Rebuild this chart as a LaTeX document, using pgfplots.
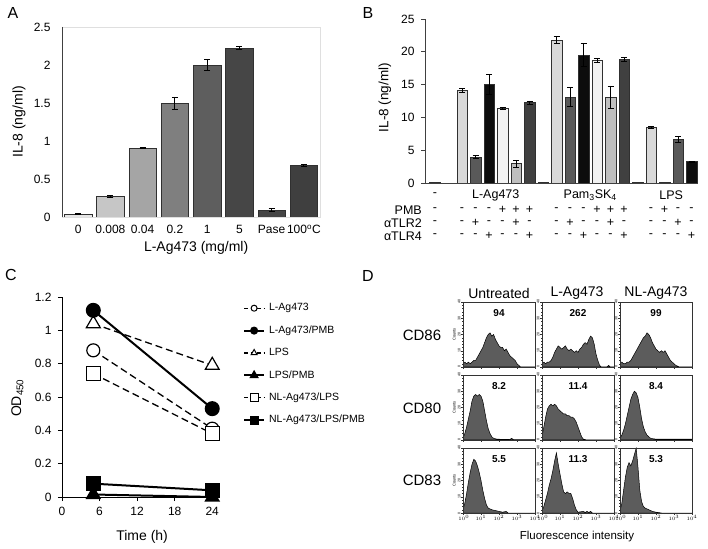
\documentclass[border=0pt]{standalone}
\usepackage{pgfplots}
\pgfplotsset{compat=1.18}
\usepackage{fontspec}
\setmainfont{Liberation Sans}
\definecolor{a0}{HTML}{E6E6E6}
\definecolor{a1}{HTML}{C6C6C6}
\definecolor{a2}{HTML}{A5A5A5}
\definecolor{a3}{HTML}{7F7F7F}
\definecolor{a4}{HTML}{5E5E5E}
\definecolor{a5}{HTML}{464646}
\definecolor{a6}{HTML}{444444}
\definecolor{a7}{HTML}{3F3F3F}
\definecolor{edge}{HTML}{303030}
\definecolor{b1}{HTML}{D9D9D9}
\definecolor{b2}{HTML}{595959}
\definecolor{b3}{HTML}{0D0D0D}
\definecolor{b4}{HTML}{F2F2F2}
\definecolor{b5}{HTML}{BFBFBF}
\definecolor{b6}{HTML}{404040}
\definecolor{hfill}{HTML}{5C5C5C}
\newcommand{\fs}[1]{\fontsize{#1}{#1}\selectfont}
\pgfplotsset{
  /pgf/number format/assume math mode=true,
  eb/.style={error bars/.cd, y dir=both, y explicit,
    error bar style={black, line width=0.8pt},
    error mark options={rotate=90, mark size=3pt, black, line width=0.8pt}},
  hist/.style={
    anchor=south west, scale only axis, width=72pt, height=65pt,
    xmin=0, xmax=4, ymin=0, ymax=40,
    xtick={0,1,2,3,4}, ytick={0,10,20,30,40},
    xticklabels={\hspace{1.6pt}$10^0$,$10^1$,$10^2$,$10^3$,$10^4$\hspace{1.6pt}},
    minor xtick={0.301,0.477,0.602,0.699,0.778,0.845,0.903,0.954,1.301,1.477,1.602,1.699,1.778,1.845,1.903,1.954,2.301,2.477,2.602,2.699,2.778,2.845,2.903,2.954,3.301,3.477,3.602,3.699,3.778,3.845,3.903,3.954},
    minor y tick num=4,
    xtick pos=bottom, ytick pos=left,
    tick align=outside, major tick length=2pt, minor tick length=1pt,
    tick style={black!80, line width=0.4pt},
    axis line style={black!80, line width=0.6pt},
    tick label style={font=\fs{3.6}},
    xticklabel style={font=\fs{3.2}, inner sep=0pt},
    yticklabel style={rotate=90, anchor=south, inner sep=0.5pt},
    axis on top,
  },
  hplot/.style={fill=hfill, draw=black, line width=0.5pt},
  dsty/.style={black, line width=1.3pt, dash pattern=on 7pt off 4pt},
  ssty/.style={black, line width=2pt},
}
\begin{document}
\begin{tikzpicture}
\useasboundingbox (0pt,0pt) rectangle (708pt,548pt);

% ---------------- Panel A ----------------
\begin{axis}[
  at={(62pt,331pt)}, anchor=south west, scale only axis,
  width=258pt, height=190pt,
  xmin=-0.5, xmax=7.5, ymin=0, ymax=2.5,
  ytick={0,0.5,1,1.5,2,2.5},
  xtick={0,...,7}, xticklabels={0,0.008,0.04,0.2,1,5,Pase,100\textsuperscript{o}C},
  tick style={draw=none},
  axis line style={draw=gray!25},
  ybar, bar width=27.5pt, bar shift=0pt,
  ticklabel style={font=\fs{12}},
  yticklabel style={xshift=-8pt},
  xlabel={L-Ag473 (mg/ml)}, ylabel={IL-8 (ng/ml)},
  label style={font=\fs{14}},
  xlabel style={at={(axis description cs:0.52,-0.163)}, anchor=center},
  ylabel style={at={(axis description cs:-0.167,0.5)}, anchor=center},
]
\addplot[fill=a0, draw=edge, line width=0.6pt, eb] coordinates {(0,0.04) +- (0,0.006)};
\addplot[fill=a1, draw=edge, line width=0.6pt, eb] coordinates {(1,0.27) +- (0,0.01)};
\addplot[fill=a2, draw=edge, line width=0.6pt, eb] coordinates {(2,0.91) +- (0,0.01)};
\addplot[fill=a3, draw=edge, line width=0.6pt, eb] coordinates {(3,1.50) +- (0,0.08)};
\addplot[fill=a4, draw=edge, line width=0.6pt, eb] coordinates {(4,2.00) +- (0,0.07)};
\addplot[fill=a5, draw=edge, line width=0.6pt, eb] coordinates {(5,2.22) +- (0,0.02)};
\addplot[fill=a6, draw=edge, line width=0.6pt, eb] coordinates {(6,0.09) +- (0,0.02)};
\addplot[fill=a7, draw=edge, line width=0.6pt, eb] coordinates {(7,0.68) +- (0,0.01)};
\draw[black!75, line width=0.8pt] (rel axis cs:0,1) -- (rel axis cs:0,0) -- (rel axis cs:1,0);
\end{axis}

% ---------------- Panel B ----------------
\begin{axis}[
  at={(425pt,365pt)}, anchor=south west, scale only axis,
  width=273pt, height=164pt,
  xmin=-0.74, xmax=19.48, ymin=0, ymax=25,
  ytick={0,5,10,15,20,25}, xtick=\empty,
  axis x line=bottom, axis y line=left,
  axis line style={-, black!75, line width=0.8pt},
  tick style={black!75, line width=0.6pt}, tick align=outside, major tick length=4pt,
  ybar, bar width=10.5pt, bar shift=0pt,
  ticklabel style={font=\fs{12}},
  yticklabel style={xshift=-3pt},
  ylabel={IL-8 (ng/ml)},
  label style={font=\fs{13.5}},
  ylabel style={at={(axis description cs:-0.147,0.52)}, anchor=center},
]
\addplot[fill=b1, draw=edge, line width=0.5pt] coordinates {(0,0.08)};
\addplot[fill=b1, draw=edge, line width=0.5pt, eb] coordinates {(2,14.1) +- (0,0.25)};
\addplot[fill=b2, draw=edge, line width=0.5pt, eb] coordinates {(3,4.0) +- (0,0.2)};
\addplot[fill=b3, draw=edge, line width=0.5pt, eb] coordinates {(4,15.0) +- (0,1.5)};
\addplot[fill=b4, draw=edge, line width=0.5pt, eb] coordinates {(5,11.35) +- (0,0.15)};
\addplot[fill=b5, draw=edge, line width=0.5pt, eb] coordinates {(6,2.95) +- (0,0.5)};
\addplot[fill=b6, draw=edge, line width=0.5pt, eb] coordinates {(7,12.25) +- (0,0.25)};
\addplot[fill=b6, draw=edge, line width=0.5pt] coordinates {(8,0.08)};
\addplot[fill=b1, draw=edge, line width=0.5pt, eb] coordinates {(9,21.8) +- (0,0.5)};
\addplot[fill=b2, draw=edge, line width=0.5pt, eb] coordinates {(10,13.1) +- (0,1.5)};
\addplot[fill=b3, draw=edge, line width=0.5pt, eb] coordinates {(11,19.5) +- (0,1.8)};
\addplot[fill=b4, draw=edge, line width=0.5pt, eb] coordinates {(12,18.7) +- (0,0.25)};
\addplot[fill=b5, draw=edge, line width=0.5pt, eb] coordinates {(13,13.1) +- (0,1.7)};
\addplot[fill=b6, draw=edge, line width=0.5pt, eb] coordinates {(14,18.9) +- (0,0.3)};
\addplot[fill=b6, draw=edge, line width=0.5pt] coordinates {(15,0.08)};
\addplot[fill=b1, draw=edge, line width=0.5pt, eb] coordinates {(16,8.45) +- (0,0.2)};
\addplot[fill=b3, draw=edge, line width=0.5pt] coordinates {(17,0.15)};
\addplot[fill=b2, draw=edge, line width=0.5pt, eb] coordinates {(18,6.65) +- (0,0.4)};
\addplot[fill=b3, draw=edge, line width=0.5pt, eb] coordinates {(19,3.25) +- (0,0.05)};
\end{axis}
% B labels below axis
\begin{scope}[every node/.style={font=\fs{12.5}, inner sep=0pt}]
\node at (435pt,353pt) {-};
\node at (495.75pt,353pt) {L-Ag473};
\node at (590.25pt,353pt) {Pam\textsubscript{3}SK\textsubscript{4}};
\node at (671.25pt,353pt) {LPS};
\node[anchor=east] at (422pt,338pt) {PMB};
\node[anchor=east] at (422pt,325pt) {αTLR2};
\node[anchor=east] at (422pt,312pt) {αTLR4};
\foreach \s/\p/\a/\b in {0/-/-/-, 2/-/-/-, 3/-/+/-, 4/-/-/+, 5/+/-/-, 6/+/+/-, 7/+/-/+,
  9/-/-/-, 10/-/+/-, 11/-/-/+, 12/+/-/-, 13/+/+/-, 14/+/-/+,
  16/-/-/-, 17/+/-/-, 18/-/+/-, 19/-/-/+}{
  \node at ({435pt+13.5pt*\s},338pt) {\p};
  \node at ({435pt+13.5pt*\s},325pt) {\a};
  \node at ({435pt+13.5pt*\s},312pt) {\b};
}
\end{scope}

% ---------------- Panel C ----------------
\begin{axis}[
  at={(62pt,51pt)}, anchor=south west, scale only axis,
  width=154pt, height=200pt,
  xmin=0, xmax=24.6, ymin=0, ymax=1.2,
  xtick={0,6,12,18,24}, ytick={0,0.2,0.4,0.6,0.8,1,1.2},
  axis x line=bottom, axis y line=left,
  axis line style={-, black, line width=1pt},
  tick style={black, line width=0.8pt}, tick align=outside, major tick length=4pt,
  clip=false,
  ticklabel style={font=\fs{12}},
  yticklabel style={xshift=-3pt},
  xticklabel style={yshift=-3pt},
  xlabel={Time (h)}, ylabel={OD\textsubscript{450}},
  label style={font=\fs{14}},
  xlabel style={at={(axis description cs:0.52,-0.2)}, anchor=center},
  ylabel style={at={(axis description cs:-0.29,0.495)}, anchor=center},
  legend style={at={(axis cs:28.9,1.1655)}, anchor=north west, draw=none, fill=none,
    font=\fs{10.5}, row sep=11.9pt, inner sep=0pt,
    nodes={inner sep=0pt, text height=8pt, text depth=2.5pt},
    /tikz/every odd column/.append style={column sep=4pt}},
  legend cell align=left,
  legend image code/.code={\draw[mark repeat=2,mark phase=2,#1] plot coordinates {(0pt,0pt) (10pt,0pt) (20pt,0pt)};},
]
\addplot[dsty, mark=*, mark size=6.5pt, mark options={solid, fill=white, draw=black, line width=1.2pt}, forget plot] coordinates {(5,0.88) (24,0.41)};
\addplot[dsty, mark=triangle*, mark size=8pt, mark options={solid, fill=white, draw=black, line width=1.2pt}, forget plot] coordinates {(5,1.04) (24,0.79)};
\addplot[dsty, mark=square*, mark size=7pt, mark options={solid, fill=white, draw=black, line width=1.2pt}, forget plot] coordinates {(5,0.74) (24,0.38)};
\addplot[ssty, mark=*, mark size=6.5pt, mark options={solid, fill=black}, forget plot] coordinates {(5,1.12) (24,0.53)};
\addplot[ssty, mark=triangle*, mark size=7pt, mark options={solid, fill=black}, forget plot] coordinates {(5,0.015) (24,0.0)};
\addplot[ssty, mark=square*, mark size=6.5pt, mark options={solid, fill=black}, forget plot] coordinates {(5,0.08) (24,0.04)};
\addlegendimage{black, line width=1.3pt, dash pattern=on 4pt off 2.5pt, mark=*, mark size=3pt, mark options={solid, fill=white, line width=1pt}}
\addlegendentry{L-Ag473}
\addlegendimage{black, line width=2pt, mark=*, mark size=3pt, mark options={solid, fill=black}}
\addlegendentry{L-Ag473/PMB}
\addlegendimage{black, line width=1.3pt, dash pattern=on 4pt off 2.5pt, mark=triangle*, mark size=3.5pt, mark options={solid, fill=white, line width=1pt}}
\addlegendentry{LPS}
\addlegendimage{black, line width=2pt, mark=triangle*, mark size=3.5pt, mark options={solid, fill=black}}
\addlegendentry{LPS/PMB}
\addlegendimage{black, line width=1.3pt, dash pattern=on 4pt off 2.5pt, mark=square*, mark size=4pt, mark options={solid, fill=white, line width=0.8pt}}
\addlegendentry{NL-Ag473/LPS}
\addlegendimage{black, line width=2pt, mark=square*, mark size=3.5pt, mark options={solid, fill=black}}
\addlegendentry{NL-Ag473/LPS/PMB}
\end{axis}

% ---------------- Panel D ----------------
% Row 1: CD86
\begin{axis}[hist, at={(463pt,181pt)}, xticklabels=\empty, ylabel={Counts}, ylabel style={font=\fs{4}, yshift=-2pt}]
\addplot[hplot] coordinates {(0,2) (0.1,3) (0.2,2) (0.3,3) (0.4,2) (0.5,3) (0.6,4) (0.7,4) (0.8,6) (0.9,8) (1.0,10) (1.1,12) (1.2,15) (1.3,18) (1.4,20) (1.5,21) (1.6,19) (1.7,20) (1.8,17) (1.9,15) (2.0,13) (2.1,12) (2.2,12) (2.3,10) (2.4,11) (2.5,9) (2.6,7) (2.7,6) (2.8,5) (2.9,4) (3.0,2) (3.1,1) (3.2,0) (4,0)} \closedcycle;
\node[font=\bfseries\fs{10}] at (rel axis cs:0.5,0.83) {94};
\end{axis}
\begin{axis}[hist, at={(542pt,181pt)}, xticklabels=\empty]
\addplot[hplot] coordinates {(0,2) (0.1,3) (0.2,2) (0.3,3) (0.4,3) (0.5,4) (0.6,6) (0.7,9) (0.8,11) (0.9,13) (1.0,12) (1.1,11) (1.2,12) (1.3,13) (1.4,11) (1.5,10) (1.6,11) (1.7,10) (1.8,9) (1.9,10) (2.0,9) (2.1,11) (2.2,12) (2.3,14) (2.4,15) (2.5,14) (2.6,17) (2.7,19) (2.8,18) (2.9,14) (3.0,8) (3.1,4) (3.2,1) (3.3,0) (3.6,0) (3.7,1) (3.8,0) (4,0)} \closedcycle;
\node[font=\bfseries\fs{10}] at (rel axis cs:0.5,0.83) {262};
\end{axis}
\begin{axis}[hist, at={(620pt,181pt)}, xticklabels=\empty]
\addplot[hplot] coordinates {(0,3) (0.1,3) (0.2,2) (0.3,2) (0.4,3) (0.5,3) (0.6,4) (0.7,6) (0.8,8) (0.9,10) (1.0,12) (1.1,14) (1.2,16) (1.3,18) (1.4,19) (1.5,21) (1.6,20) (1.7,18) (1.8,15) (1.9,13) (2.0,11) (2.1,10) (2.2,9) (2.3,10) (2.4,9) (2.5,10) (2.6,8) (2.7,6) (2.8,4) (2.9,3) (3.0,2) (3.1,1) (3.2,0.5) (3.3,0) (4,0)} \closedcycle;
\node[font=\bfseries\fs{10}] at (rel axis cs:0.5,0.83) {99};
\end{axis}
% Row 2: CD80
\begin{axis}[hist, at={(463pt,108pt)}, xticklabels=\empty, ylabel={Counts}, ylabel style={font=\fs{4}, yshift=-2pt}]
\addplot[hplot] coordinates {(0,1) (0.1,4) (0.2,8) (0.3,13) (0.4,18) (0.5,24) (0.6,27) (0.7,28) (0.8,27) (0.9,28) (1.0,27) (1.1,24) (1.2,18) (1.3,12) (1.4,7) (1.5,4) (1.6,2) (1.7,1) (1.9,0.5) (2.6,0.3) (2.7,1) (2.8,0.3) (4,0.3)} \closedcycle;
\node[font=\bfseries\fs{10}] at (rel axis cs:0.5,0.83) {8.2};
\end{axis}
\begin{axis}[hist, at={(542pt,108pt)}, xticklabels=\empty]
\addplot[hplot] coordinates {(0,2) (0.1,8) (0.2,14) (0.3,19) (0.4,21) (0.5,22) (0.6,21) (0.7,22) (0.8,21) (0.9,19) (1.0,18) (1.1,17) (1.2,16) (1.3,16) (1.4,15) (1.5,15) (1.6,14) (1.7,14) (1.8,13) (1.9,11) (2.0,8) (2.1,5) (2.2,2) (2.3,0.5) (2.5,0) (4,0)} \closedcycle;
\node[font=\bfseries\fs{10}] at (rel axis cs:0.5,0.83) {11.4};
\end{axis}
\begin{axis}[hist, at={(620pt,108pt)}, xticklabels=\empty]
\addplot[hplot] coordinates {(0,1) (0.1,3) (0.2,6) (0.3,10) (0.4,15) (0.5,20) (0.6,25) (0.7,28) (0.8,30) (0.9,29) (1.0,26) (1.1,20) (1.2,13) (1.3,8) (1.4,5) (1.5,3) (1.6,2) (1.7,1) (2.0,0.5) (2.5,0.5) (3.0,0.5) (4,0.5)} \closedcycle;
\node[font=\bfseries\fs{10}] at (rel axis cs:0.5,0.83) {8.4};
\end{axis}
% Row 3: CD83
\begin{axis}[hist, at={(463pt,35pt)}, ylabel={Counts}, ylabel style={font=\fs{4}, yshift=-2pt}]
\addplot[hplot] coordinates {(0,2) (0.1,6) (0.2,12) (0.3,19) (0.4,25) (0.5,30) (0.6,33) (0.7,32) (0.8,29) (0.9,25) (1.0,20) (1.1,14) (1.2,9) (1.3,5) (1.4,3) (1.5,2.5) (1.6,2) (1.8,1.5) (2.0,1) (2.2,0.5) (2.4,1) (2.5,0) (4,0)} \closedcycle;
\node[font=\bfseries\fs{10}] at (rel axis cs:0.5,0.83) {5.5};
\end{axis}
\begin{axis}[hist, at={(542pt,35pt)}]
\addplot[hplot] coordinates {(0,1) (0.1,4) (0.2,8) (0.3,12) (0.4,17) (0.5,21) (0.6,26) (0.7,32) (0.8,37) (0.9,30) (1.0,24) (1.1,18) (1.2,13) (1.3,12) (1.4,13) (1.5,12) (1.6,12) (1.7,9) (1.8,5) (1.9,2) (2.0,0.5) (2.3,1) (2.4,0.3) (2.5,1) (2.6,0.3) (2.7,1) (2.8,0) (4,0)} \closedcycle;
\node[font=\bfseries\fs{10}] at (rel axis cs:0.5,0.83) {11.3};
\end{axis}
\begin{axis}[hist, at={(620pt,35pt)}]
\addplot[hplot] coordinates {(0,1) (0.1,6) (0.2,14) (0.3,22) (0.4,28) (0.5,31) (0.6,29) (0.7,32) (0.8,36) (0.9,40) (1.0,28) (1.1,14) (1.2,7) (1.3,4) (1.4,3) (1.5,2.5) (1.6,2) (1.8,1) (2.0,0.5) (2.3,0) (4,0)} \closedcycle;
\node[font=\bfseries\fs{10}] at (rel axis cs:0.5,0.83) {5.3};
\end{axis}
% D labels
\node[font=\fs{14}] at (499pt,255pt) {Untreated};
\node[font=\fs{14}] at (577pt,255pt) {L-Ag473};
\node[font=\fs{14}] at (656pt,255pt) {NL-Ag473};
\node[font=\fs{15}] at (422pt,213pt) {CD86};
\node[font=\fs{15}] at (422pt,140pt) {CD80};
\node[font=\fs{15}] at (422pt,68pt) {CD83};
\node[font=\fs{11.5}] at (577pt,11pt) {Fluorescence intensity};

% Panel letters
\node[font=\fs{16}] at (13pt,535pt) {A};
\node[font=\fs{16}] at (368pt,535pt) {B};
\node[font=\fs{16}] at (11pt,273pt) {C};
\node[font=\fs{16}] at (368pt,272pt) {D};
\end{tikzpicture}
\end{document}
